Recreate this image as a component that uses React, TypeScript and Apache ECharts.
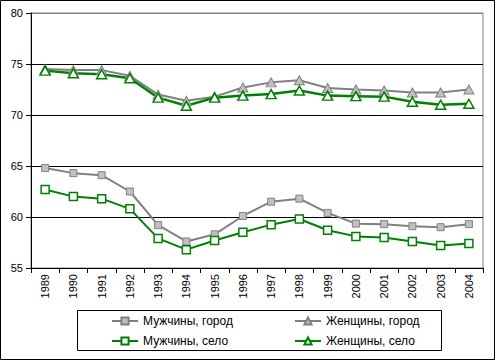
import React, { useEffect, useRef } from "react";
import * as echarts from "echarts";

const years = ["1989","1990","1991","1992","1993","1994","1995","1996","1997","1998","1999","2000","2001","2002","2003","2004"];
const menCity = [64.8, 64.3, 64.1, 62.5, 59.2, 57.6, 58.3, 60.1, 61.5, 61.8, 60.4, 59.35, 59.3, 59.1, 59.0, 59.3];
const menVillage = [62.7, 62.0, 61.8, 60.8, 57.9, 56.8, 57.7, 58.5, 59.25, 59.8, 58.7, 58.1, 58.0, 57.6, 57.2, 57.4];
const womenCity = [74.5, 74.4, 74.4, 73.85, 72.0, 71.4, 71.8, 72.7, 73.2, 73.4, 72.65, 72.5, 72.4, 72.2, 72.2, 72.5];
const womenVillage = [74.35, 74.1, 74.0, 73.6, 71.7, 70.9, 71.7, 71.9, 72.05, 72.4, 71.9, 71.85, 71.8, 71.3, 71.0, 71.1];
const seriesNames = ["Мужчины, город", "Мужчины, село", "Женщины, город", "Женщины, село"];

export default function App() {
  const ref = useRef<HTMLDivElement>(null);
  useEffect(() => {
    document.body.style.margin = "0";
    const chart = echarts.init(ref.current!, null, { renderer: "svg" });
    const font = "Liberation Sans, Arial, sans-serif";
    const gray = "#808080";
    const green = "#008000";
    const legendText = { fontSize: 12, color: "#000", fontFamily: font };
    chart.setOption({
      animation: false,
      backgroundColor: "#ffffff",
      textStyle: { fontFamily: font },
      grid: { left: 31, top: 13, right: 12, bottom: 92, show: true, borderColor: gray, borderWidth: 1 },
      xAxis: {
        type: "category",
        data: years,
        boundaryGap: true,
        axisLine: { lineStyle: { color: "#000", width: 1 } },
        axisTick: { show: true, length: 5, lineStyle: { color: "#000" } },
        axisLabel: { rotate: 90, fontSize: 11, color: "#000", fontFamily: font, margin: 6 },
        splitLine: { show: false },
      },
      yAxis: {
        type: "value",
        min: 55,
        max: 80,
        interval: 5,
        axisLine: { show: true, lineStyle: { color: "#000", width: 1 } },
        axisTick: { show: true, length: 5, lineStyle: { color: "#000" } },
        axisLabel: { fontSize: 11, color: "#000", fontFamily: font, margin: 8 },
        splitLine: { show: true, lineStyle: { color: ["#000000", "#000000", "#000000", "#000000", "#000000", "#808080"], width: 1 } },
      },
      legend: [
        {
          data: [seriesNames[0], seriesNames[1]],
          orient: "vertical",
          left: 111,
          top: 315,
          padding: 0,
          itemWidth: 26,
          itemHeight: 9,
          itemGap: 8,
          textStyle: legendText,
        },
        {
          data: [seriesNames[2], seriesNames[3]],
          orient: "vertical",
          left: 294,
          top: 315,
          padding: 0,
          itemWidth: 26,
          itemHeight: 9,
          itemGap: 8,
          textStyle: legendText,
        },
      ],
      graphic: [
        { type: "rect", shape: { x: 0.5, y: 0.5, width: 494, height: 359 }, style: { fill: "none", stroke: "#000", lineWidth: 1 }, silent: true },
        { type: "rect", shape: { x: 77.5, y: 310.5, width: 364, height: 40 }, style: { fill: "none", stroke: "#000", lineWidth: 1 }, silent: true },
      ],
      series: [
        {
          name: seriesNames[0],
          type: "line",
          data: menCity,
          symbol: "rect",
          symbolSize: 7,
          lineStyle: { color: gray, width: 2 },
          itemStyle: { color: "#c0c0c0", borderColor: gray, borderWidth: 1 },
        },
        {
          name: seriesNames[1],
          type: "line",
          data: menVillage,
          symbol: "rect",
          symbolSize: 8,
          lineStyle: { color: green, width: 2 },
          itemStyle: { color: "#ffffff", borderColor: green, borderWidth: 1.5 },
        },
        {
          name: seriesNames[2],
          type: "line",
          data: womenCity,
          symbol: "triangle",
          symbolSize: [10, 9],
          lineStyle: { color: gray, width: 2 },
          itemStyle: { color: "#c0c0c0", borderColor: gray, borderWidth: 1 },
        },
        {
          name: seriesNames[3],
          type: "line",
          data: womenVillage,
          symbol: "triangle",
          symbolSize: [10, 9],
          lineStyle: { color: green, width: 2.5 },
          itemStyle: { color: "#ffffff", borderColor: green, borderWidth: 1.5 },
        },
      ],
    });
    return () => chart.dispose();
  }, []);
  return <div ref={ref} style={{ width: 495, height: 360 }} />;
}
